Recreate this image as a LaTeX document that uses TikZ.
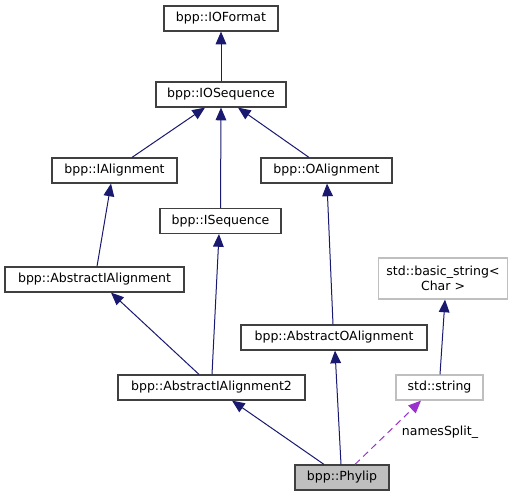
\documentclass[tikz,border=0pt]{standalone}
\usepackage{fontspec}
\setmainfont{DejaVu Sans}
\usetikzlibrary{arrows.meta,calc}
\definecolor{edgeblue}{HTML}{191970}
\definecolor{dashpurple}{HTML}{9A32CD}
\definecolor{boxgray}{HTML}{BFBFBF}
\definecolor{boxborder}{HTML}{404040}
\begin{document}
\begin{tikzpicture}[x=0.75pt,y=-0.75pt,
  cls/.style={draw=boxborder,line width=0.9pt,inner sep=0pt,align=center,font=\fontsize{9.4}{11}\selectfont},
  ext/.style={cls,draw=boxgray},
  edge/.style={draw=edgeblue,line width=0.75pt,-{Triangle[length=9.5pt,width=8pt,fill=edgeblue]}},
  uses/.style={draw=dashpurple,line width=0.75pt,dash pattern=on 5pt off 3.5pt,-{Triangle[length=9.5pt,width=8pt,fill=dashpurple]}}]
\useasboundingbox (0,0) rectangle (523,496);
\node[cls,minimum width=85.5pt,minimum height=18.75pt] (iof) at (221,18.5) {bpp::IOFormat};
\node[cls,minimum width=97.5pt,minimum height=18.75pt] (ios) at (221,94.5) {bpp::IOSequence};
\node[cls,minimum width=93.75pt,minimum height=18.75pt] (ia) at (114.5,170.5) {bpp::IAlignment};
\node[cls,minimum width=98.25pt,minimum height=18.75pt] (oa) at (326.5,170.5) {bpp::OAlignment};
\node[cls,minimum width=90.75pt,minimum height=18.75pt] (isq) at (220.5,221) {bpp::ISequence};
\node[cls,minimum width=134.25pt,minimum height=18.75pt] (aia) at (94.5,279.5) {bpp::AbstractIAlignment};
\node[ext,minimum width=96.75pt,minimum height=30.75pt] (bs) at (443,278.5) {std::basic\_string<\\ Char >};
\node[cls,minimum width=139.5pt,minimum height=18.75pt] (aoa) at (334,337.5) {bpp::AbstractOAlignment};
\node[cls,minimum width=140.25pt,minimum height=18.75pt] (aia2) at (211.5,387.5) {bpp::AbstractIAlignment2};
\node[ext,minimum width=65.25pt,minimum height=18.75pt] (str) at (439.5,387.5) {std::string};
\node[cls,fill=boxgray,draw=boxborder,minimum width=70.5pt,minimum height=18.75pt] (phy) at (342,477.5) {bpp::Phylip};
\node[font=\fontsize{9.4}{11}\selectfont,inner sep=0pt] (lbl) at (440,432.5) {namesSplit\_};
\draw[edge] (ios.north) -- (iof.south);
\draw[edge] ($(ia.north)+(17.5,0)$) -- ($(ios.south)+(-16,0)$);
\draw[edge] (isq.north) -- (ios.south);
\draw[edge] ($(oa.north)+(-17.5,0)$) -- ($(ios.south)+(17,0)$);
\draw[edge] ($(aia.north)+(2.5,0)$) -- ($(ia.south)+(-3.5,0)$);
\draw[edge] ($(aia2.north)+(-12.5,0)$) -- ($(aia.south)+(16.5,0)$);
\draw[edge] ($(aia2.north)+(0.5,0)$) -- ($(isq.south)+(-1.5,0)$);
\draw[edge] ($(aoa.north)+(-1,0)$) -- ($(oa.south)+(0.5,0)$);
\draw[edge] ($(phy.north)+(-18,0)$) -- ($(aia2.south)+(20.5,0)$);
\draw[edge] ($(phy.north)+(-1,0)$) -- ($(aoa.south)+(1,0)$);
\draw[uses] ($(phy.north)+(13,0)$) -- ($(str.south)+(-18.5,0)$);
\draw[edge] ($(str.north)+(0.5,0)$) -- ($(bs.south)+(2,0)$);
\end{tikzpicture}
\end{document}
